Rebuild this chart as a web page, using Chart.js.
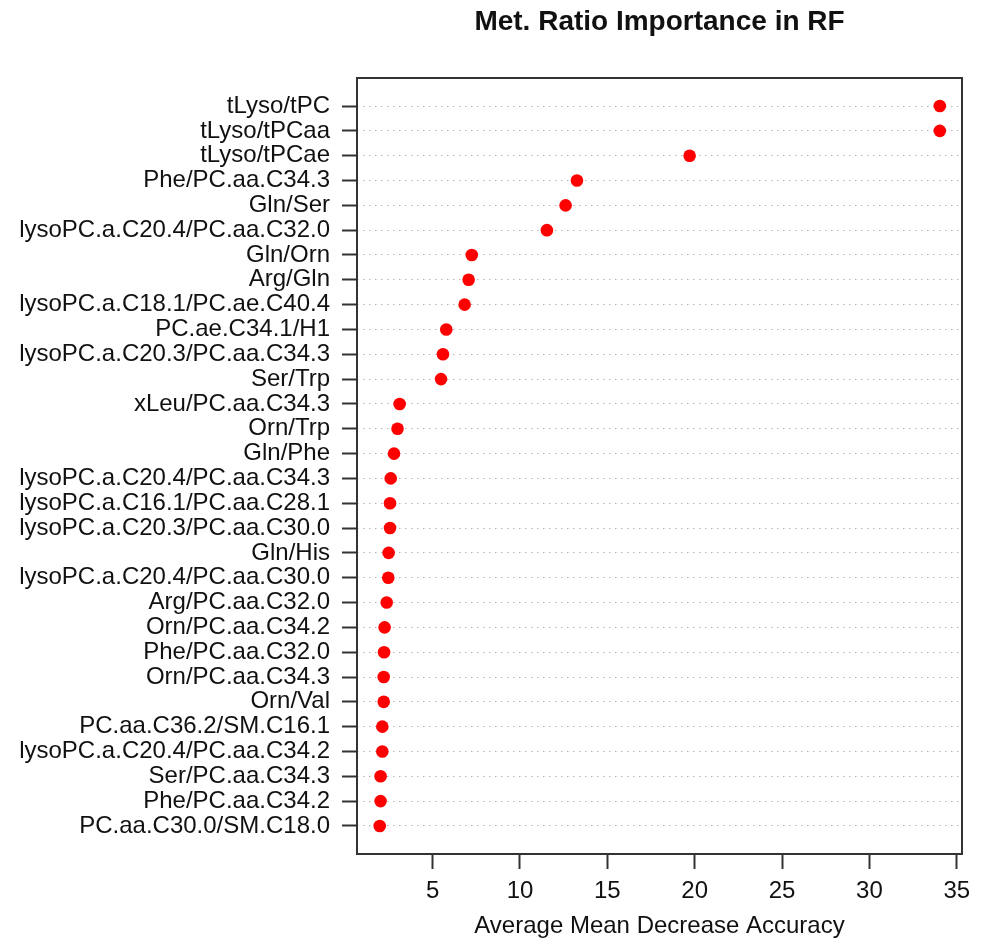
<!DOCTYPE html>
<html>
<head>
<meta charset="utf-8">
<script src="https://cdn.jsdelivr.net/npm/chart.js@4"></script>
<style>
  body { margin: 0; background: #fff; }
</style>
</head>
<body>
<canvas id="canva" width="982" height="947"></canvas>
<script>
const ratios = [
  "tLyso/tPC", "tLyso/tPCaa", "tLyso/tPCae", "Phe/PC.aa.C34.3", "Gln/Ser",
  "lysoPC.a.C20.4/PC.aa.C32.0", "Gln/Orn", "Arg/Gln", "lysoPC.a.C18.1/PC.ae.C40.4",
  "PC.ae.C34.1/H1", "lysoPC.a.C20.3/PC.aa.C34.3", "Ser/Trp", "xLeu/PC.aa.C34.3",
  "Orn/Trp", "Gln/Phe", "lysoPC.a.C20.4/PC.aa.C34.3", "lysoPC.a.C16.1/PC.aa.C28.1",
  "lysoPC.a.C20.3/PC.aa.C30.0", "Gln/His", "lysoPC.a.C20.4/PC.aa.C30.0",
  "Arg/PC.aa.C32.0", "Orn/PC.aa.C34.2", "Phe/PC.aa.C32.0", "Orn/PC.aa.C34.3",
  "Orn/Val", "PC.aa.C36.2/SM.C16.1", "lysoPC.a.C20.4/PC.aa.C34.2",
  "Ser/PC.aa.C34.3", "Phe/PC.aa.C34.2", "PC.aa.C30.0/SM.C18.0"
];
const accuracy = [
  34.03, 34.03, 19.71, 13.26, 12.61, 11.54, 7.24, 7.06, 6.83, 5.78,
  5.59, 5.48, 3.11, 2.99, 2.79, 2.60, 2.56, 2.56, 2.48, 2.46,
  2.37, 2.25, 2.22, 2.20, 2.20, 2.12, 2.12, 2.02, 2.02, 1.97
];
const xTicks = [5, 10, 15, 20, 25, 30, 35];

const fontFamily = "'Liberation Sans', Arial, Helvetica, sans-serif";

// box around the plot region, like R's box()
const frame = {
  id: "frame",
  afterDraw(chart) {
    const { ctx, chartArea: a } = chart;
    ctx.save();
    ctx.strokeStyle = "#333";
    ctx.lineWidth = 2;
    ctx.strokeRect(a.left, a.top, a.right - a.left, a.bottom - a.top);
    ctx.restore();
  },
};

const ctx = document.getElementById("canva");
new Chart(ctx, {
  type: "scatter",
  data: {
    datasets: [
      {
        data: accuracy.map((v, i) => ({ x: v, y: i })),
        pointRadius: 6.3,
        pointHoverRadius: 6.3,
        pointBackgroundColor: "#ff0000",
        pointBorderWidth: 0,
      },
    ],
  },
  options: {
    responsive: false,
    animation: false,
    devicePixelRatio: 1,
    layout: { padding: { left: 0, right: 20, top: 0, bottom: 0 } },
    scales: {
      x: {
        type: "linear",
        min: 0.67,
        max: 35.3,
        afterBuildTicks: (axis) => {
          axis.ticks = xTicks.map((v) => ({ value: v }));
        },
        afterFit: (scale) => {
          scale.height = 93;
        },
        ticks: {
          color: "#111",
          padding: 10,
          maxRotation: 0,
          autoSkip: false,
          font: { family: fontFamily, size: 24, lineHeight: 1 },
        },
        grid: {
          drawOnChartArea: false,
          drawTicks: true,
          tickLength: 15,
          tickColor: "#333",
          tickWidth: 2,
        },
        border: { display: false },
        title: {
          display: true,
          text: "Average Mean Decrease Accuracy",
          color: "#111",
          padding: { top: 0, bottom: 9 },
          font: { family: fontFamily, size: 24, lineHeight: 1 },
        },
      },
      y: {
        type: "linear",
        reverse: true,
        min: -1.13,
        max: 30.13,
        z: 1,
        afterBuildTicks: (axis) => {
          axis.ticks = ratios.map((_, i) => ({ value: i }));
        },
        afterFit: (scale) => {
          scale.width = 357;
        },
        ticks: {
          color: "#111",
          padding: 12,
          autoSkip: false,
          font: { family: fontFamily, size: 24, lineHeight: 1 },
          callback: (value) => ratios[value],
        },
        grid: {
          color: "#b4b4b4",
          lineWidth: 1,
          drawTicks: true,
          tickLength: 15,
          tickColor: "#333",
          tickWidth: 2,
          tickBorderDash: [],
        },
        // in v4 border.dash dashes the grid lines
        border: { display: false, dash: [1.5, 4.5] },
      },
    },
    plugins: {
      legend: { display: false },
      tooltip: { enabled: false },
      title: {
        display: true,
        fullSize: false,
        text: "Met. Ratio Importance in RF",
        color: "#111",
        padding: { top: 5, bottom: 39.4 },
        font: { family: fontFamily, size: 28, weight: "bold", lineHeight: 1.2 },
      },
    },
  },
  plugins: [frame],
});
</script>
</body>
</html>
